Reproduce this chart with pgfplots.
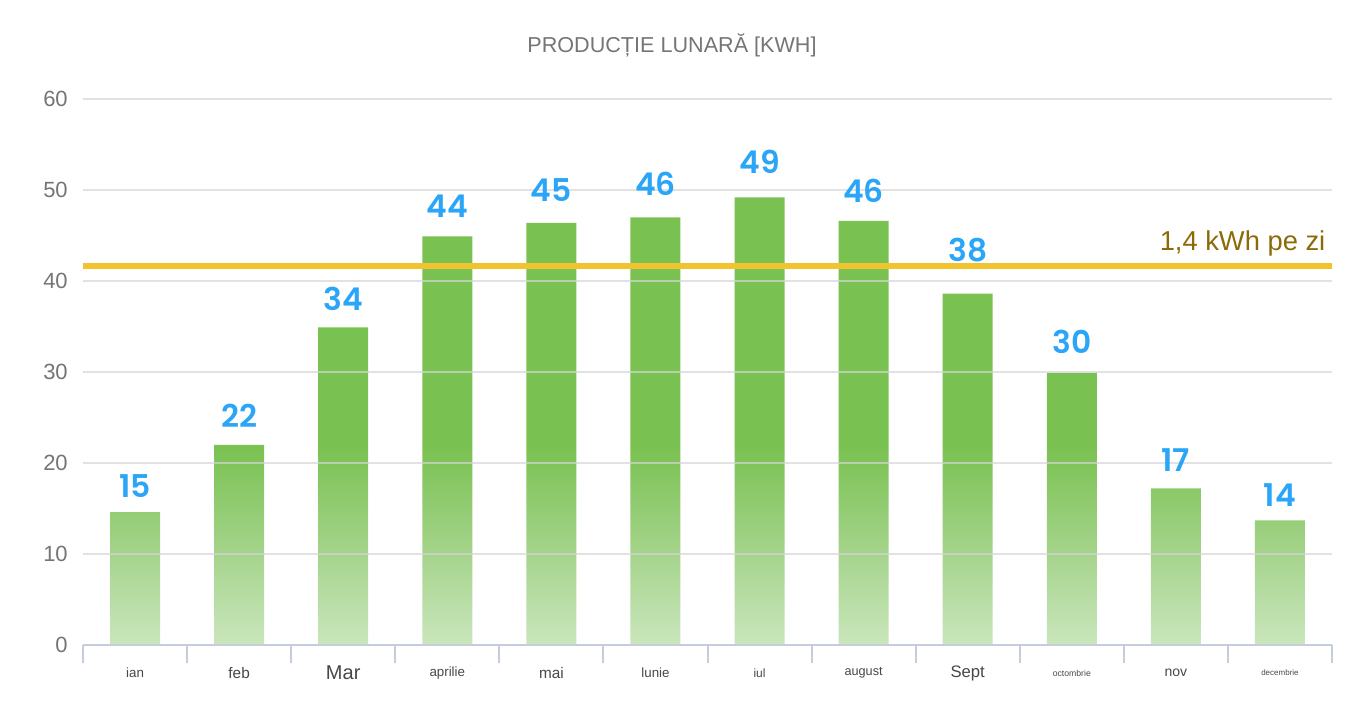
\documentclass[border=0pt]{standalone}
\usepackage{fontspec}
\setmainfont{Liberation Sans}
\IfFontExistsTF{Poppins SemiBold}
  {\newfontfamily\valfontA{Poppins SemiBold}\newcommand\valstyle{\valfontA}}
  {\newfontfamily\valfontB{Poppins}\newcommand\valstyle{\valfontB\bfseries}}
\usepackage{pgfplots}
\pgfplotsset{compat=1.18}
\definecolor{bargreen}{HTML}{79C150}
\definecolor{barmid}{HTML}{A5D48C}
\definecolor{barlight}{HTML}{CAE6BD}
\definecolor{valblue}{HTML}{2AA5F7}
\definecolor{lineyellow}{HTML}{F1C32E}
\definecolor{linetext}{HTML}{8C6A07}
\definecolor{gridgray}{HTML}{D5D5D5}
\definecolor{axisgray}{HTML}{C3CDDB}
\definecolor{ticklabel}{HTML}{757575}
\definecolor{xlab}{HTML}{474747}
% bbox of all bars: 0 .. 49.2 units -> 25bp .. 75bp
% 10 units -> 35.16bp, 22 units -> 47.36bp
\pgfdeclareverticalshading{bargrad}{100bp}{color(0bp)=(barlight); color(25bp)=(barlight);
  color(35.16bp)=(barmid); color(47.36bp)=(bargreen); color(100bp)=(bargreen)}
\begin{document}
\begin{tikzpicture}
\useasboundingbox (-62.25pt,-43.5pt) rectangle (951.75pt,483.75pt);
\begin{axis}[
  at={(0,0)}, anchor=south west,
  scale only axis, width=936.75pt, height=409.5pt,
  xmin=-0.5, xmax=11.5, ymin=0, ymax=60,
  ytick={0,10,...,60},
  ymajorgrids, grid style={gridgray, line width=1.2pt, opacity=0.7},
  axis on top,
  axis x line=bottom, axis y line=left,
  x axis line style={-, axisgray, line width=1.5pt},
  y axis line style={draw=none},
  tick align=outside,
  major tick length=0pt,
  minor tick length=13.5pt,
  xtick={0,...,11},
  minor xtick={-0.5,0.5,...,11.5},
  every minor tick/.style={axisgray, line width=1.5pt},
  ytick style={draw=none},
  /pgf/number format/assume math mode=true,
  yticklabel style={font=\fontsize{16.5}{16.5}\selectfont, text=ticklabel, inner sep=0pt, anchor=east, xshift=-11.25pt},
  xticklabel style={text=xlab, inner sep=0pt, anchor=center, yshift=-21pt},
  xticklabels={
    {\fontsize{10}{10}\selectfont ian},
    {\fontsize{11.5}{11.5}\selectfont feb},
    {\fontsize{15}{15}\selectfont Mar},
    {\fontsize{10}{10}\selectfont aprilie},
    {\fontsize{11.5}{11.5}\selectfont mai},
    {\fontsize{10}{10}\selectfont lunie},
    {\fontsize{9}{9}\selectfont iul},
    {\fontsize{9.5}{9.5}\selectfont august},
    {\fontsize{12.5}{12.5}\selectfont Sept},
    {\fontsize{6.5}{6.5}\selectfont octombrie},
    {\fontsize{10.5}{10.5}\selectfont nov},
    {\fontsize{6}{6}\selectfont decembrie}},
]
\addplot[ybar, bar width=0.48, draw=none, shade, shading=bargrad]
  coordinates {(0,14.6) (1,22.0) (2,34.9) (3,44.9) (4,46.4) (5,47.0)
               (6,49.2) (7,46.6) (8,38.6) (9,29.9) (10,17.2) (11,13.7)};
\addplot[lineyellow, line width=4pt] coordinates {(-0.5,41.63) (11.5,41.63)}
  node[pos=1, anchor=base east, xshift=-3pt, yshift=12pt, inner sep=0pt, text=linetext,
       font=\fontsize{20.5}{20.5}\selectfont] {1,4 kWh pe zi};
\addplot[draw=none, mark=none, nodes near coords, point meta=explicit symbolic,
  nodes near coords style={anchor=base, inner sep=0pt, text=valblue,
    font=\valstyle\fontsize{23.5}{23.5}\selectfont}]
  coordinates {(0,16.26)[15] (1,23.85)[22] (2,36.81)[34] (3,47.03)[44] (4,48.79)[45]
               (5,49.45)[46] (6,51.76)[49] (7,48.68)[46] (8,42.09)[38] (9,31.98)[30]
               (10,19.12)[17] (11,15.27)[14]};
\end{axis}
\node[anchor=base, inner sep=0pt, text=ticklabel, font=\fontsize{16.2}{16.2}\selectfont]
  at (441.75pt,444pt) {PRODUCȚIE LUNARĂ [KWH]};
\end{tikzpicture}
\end{document}
